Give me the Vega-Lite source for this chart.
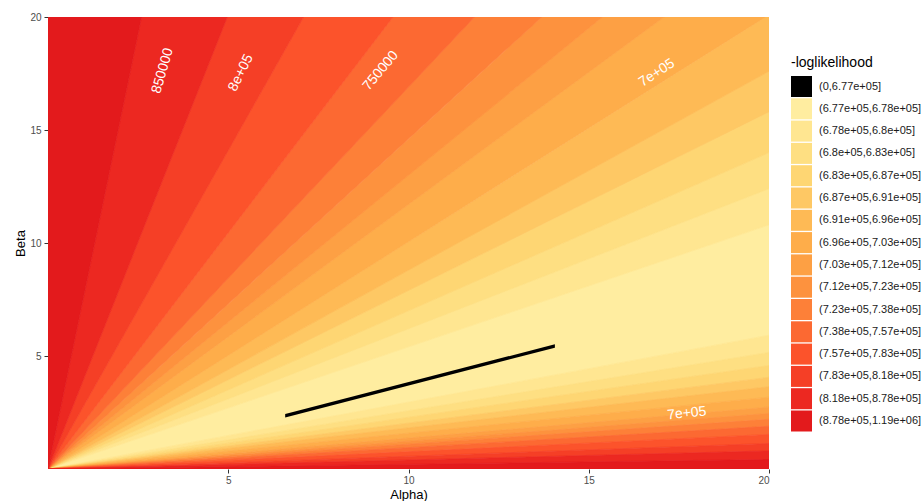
{
  "$schema": "https://vega.github.io/schema/vega-lite/v6.json",
  "width": 721,
  "height": 452,
  "autosize": {"type": "none"},
  "padding": {"left": 48, "top": 17, "right": 154, "bottom": 32},
  "background": "white",
  "config": {
    "font": "Liberation Sans",
    "view": {"stroke": null},
    "axis": {"grid": false, "domain": false, "tickColor": "#333333", "tickSize": 4, "labelColor": "#4D4D4D", "labelFontSize": 10, "titleFontSize": 13, "titleFontWeight": "normal", "titleColor": "#000000", "labelPadding": 2}
  },
  "datasets": {
    "bands": [
      {"id": "u2", "cls": "(6.77e+05,6.78e+05]", "alpha": 0, "lo": 0, "hi": 0},
      {"id": "u2", "cls": "(6.77e+05,6.78e+05]", "alpha": 20, "lo": 5.92, "hi": 10.8},
      {"id": "u3", "cls": "(6.78e+05,6.8e+05]", "alpha": 0, "lo": 0, "hi": 0},
      {"id": "u3", "cls": "(6.78e+05,6.8e+05]", "alpha": 20, "lo": 10.8, "hi": 12.4},
      {"id": "u4", "cls": "(6.8e+05,6.83e+05]", "alpha": 0, "lo": 0, "hi": 0},
      {"id": "u4", "cls": "(6.8e+05,6.83e+05]", "alpha": 20, "lo": 12.4, "hi": 14.0},
      {"id": "u5", "cls": "(6.83e+05,6.87e+05]", "alpha": 0, "lo": 0, "hi": 0},
      {"id": "u5", "cls": "(6.83e+05,6.87e+05]", "alpha": 20, "lo": 14.0, "hi": 15.8},
      {"id": "u6", "cls": "(6.87e+05,6.91e+05]", "alpha": 0, "lo": 0, "hi": 0},
      {"id": "u6", "cls": "(6.87e+05,6.91e+05]", "alpha": 20, "lo": 15.8, "hi": 17.6},
      {"id": "u7", "cls": "(6.91e+05,6.96e+05]", "alpha": 0, "lo": 0, "hi": 0},
      {"id": "u7", "cls": "(6.91e+05,6.96e+05]", "alpha": 19.9, "lo": 17.51, "hi": 20},
      {"id": "u7", "cls": "(6.91e+05,6.96e+05]", "alpha": 20, "lo": 17.6, "hi": 20},
      {"id": "u8", "cls": "(6.96e+05,7.03e+05]", "alpha": 0, "lo": 0, "hi": 0},
      {"id": "u8", "cls": "(6.96e+05,7.03e+05]", "alpha": 17.09, "lo": 17.18, "hi": 20},
      {"id": "u8", "cls": "(6.96e+05,7.03e+05]", "alpha": 19.9, "lo": 20, "hi": 20},
      {"id": "u9", "cls": "(7.03e+05,7.12e+05]", "alpha": 0, "lo": 0, "hi": 0},
      {"id": "u9", "cls": "(7.03e+05,7.12e+05]", "alpha": 15.38, "lo": 18.0, "hi": 20},
      {"id": "u9", "cls": "(7.03e+05,7.12e+05]", "alpha": 17.09, "lo": 20, "hi": 20},
      {"id": "u10", "cls": "(7.12e+05,7.23e+05]", "alpha": 0, "lo": 0, "hi": 0},
      {"id": "u10", "cls": "(7.12e+05,7.23e+05]", "alpha": 13.7, "lo": 17.81, "hi": 20},
      {"id": "u10", "cls": "(7.12e+05,7.23e+05]", "alpha": 15.38, "lo": 20, "hi": 20},
      {"id": "u11", "cls": "(7.23e+05,7.38e+05]", "alpha": 0, "lo": 0, "hi": 0},
      {"id": "u11", "cls": "(7.23e+05,7.38e+05]", "alpha": 11.83, "lo": 17.28, "hi": 20},
      {"id": "u11", "cls": "(7.23e+05,7.38e+05]", "alpha": 13.7, "lo": 20, "hi": 20},
      {"id": "u12", "cls": "(7.38e+05,7.57e+05]", "alpha": 0, "lo": 0, "hi": 0},
      {"id": "u12", "cls": "(7.38e+05,7.57e+05]", "alpha": 9.57, "lo": 16.17, "hi": 20},
      {"id": "u12", "cls": "(7.38e+05,7.57e+05]", "alpha": 11.83, "lo": 20, "hi": 20},
      {"id": "u13", "cls": "(7.57e+05,7.83e+05]", "alpha": 0, "lo": 0, "hi": 0},
      {"id": "u13", "cls": "(7.57e+05,7.83e+05]", "alpha": 7.09, "lo": 14.82, "hi": 20},
      {"id": "u13", "cls": "(7.57e+05,7.83e+05]", "alpha": 9.57, "lo": 20, "hi": 20},
      {"id": "u14", "cls": "(7.83e+05,8.18e+05]", "alpha": 0, "lo": 0, "hi": 0},
      {"id": "u14", "cls": "(7.83e+05,8.18e+05]", "alpha": 4.975, "lo": 14.03, "hi": 20},
      {"id": "u14", "cls": "(7.83e+05,8.18e+05]", "alpha": 7.09, "lo": 20, "hi": 20},
      {"id": "u15", "cls": "(8.18e+05,8.78e+05]", "alpha": 0, "lo": 0, "hi": 0},
      {"id": "u15", "cls": "(8.18e+05,8.78e+05]", "alpha": 2.597, "lo": 10.44, "hi": 20},
      {"id": "u15", "cls": "(8.18e+05,8.78e+05]", "alpha": 4.975, "lo": 20, "hi": 20},
      {"id": "u16", "cls": "(8.78e+05,1.19e+06]", "alpha": 0, "lo": 0, "hi": 20},
      {"id": "u16", "cls": "(8.78e+05,1.19e+06]", "alpha": 2.597, "lo": 20, "hi": 20},
      {"id": "l3", "cls": "(6.78e+05,6.8e+05]", "alpha": 0, "lo": 0, "hi": 0},
      {"id": "l3", "cls": "(6.78e+05,6.8e+05]", "alpha": 20, "lo": 5.16, "hi": 5.92},
      {"id": "l4", "cls": "(6.8e+05,6.83e+05]", "alpha": 0, "lo": 0, "hi": 0},
      {"id": "l4", "cls": "(6.8e+05,6.83e+05]", "alpha": 20, "lo": 4.58, "hi": 5.16},
      {"id": "l5", "cls": "(6.83e+05,6.87e+05]", "alpha": 0, "lo": 0, "hi": 0},
      {"id": "l5", "cls": "(6.83e+05,6.87e+05]", "alpha": 20, "lo": 4.06, "hi": 4.58},
      {"id": "l6", "cls": "(6.87e+05,6.91e+05]", "alpha": 0, "lo": 0, "hi": 0},
      {"id": "l6", "cls": "(6.87e+05,6.91e+05]", "alpha": 20, "lo": 3.64, "hi": 4.06},
      {"id": "l7", "cls": "(6.91e+05,6.96e+05]", "alpha": 0, "lo": 0, "hi": 0},
      {"id": "l7", "cls": "(6.91e+05,6.96e+05]", "alpha": 20, "lo": 3.18, "hi": 3.64},
      {"id": "l8", "cls": "(6.96e+05,7.03e+05]", "alpha": 0, "lo": 0, "hi": 0},
      {"id": "l8", "cls": "(6.96e+05,7.03e+05]", "alpha": 20, "lo": 2.74, "hi": 3.18},
      {"id": "l9", "cls": "(7.03e+05,7.12e+05]", "alpha": 0, "lo": 0, "hi": 0},
      {"id": "l9", "cls": "(7.03e+05,7.12e+05]", "alpha": 20, "lo": 2.46, "hi": 2.74},
      {"id": "l10", "cls": "(7.12e+05,7.23e+05]", "alpha": 0, "lo": 0, "hi": 0},
      {"id": "l10", "cls": "(7.12e+05,7.23e+05]", "alpha": 20, "lo": 2.2, "hi": 2.46},
      {"id": "l11", "cls": "(7.23e+05,7.38e+05]", "alpha": 0, "lo": 0, "hi": 0},
      {"id": "l11", "cls": "(7.23e+05,7.38e+05]", "alpha": 20, "lo": 1.89, "hi": 2.2},
      {"id": "l12", "cls": "(7.38e+05,7.57e+05]", "alpha": 0, "lo": 0, "hi": 0},
      {"id": "l12", "cls": "(7.38e+05,7.57e+05]", "alpha": 20, "lo": 1.53, "hi": 1.89},
      {"id": "l13", "cls": "(7.57e+05,7.83e+05]", "alpha": 0, "lo": 0, "hi": 0},
      {"id": "l13", "cls": "(7.57e+05,7.83e+05]", "alpha": 20, "lo": 1.13, "hi": 1.53},
      {"id": "l14", "cls": "(7.83e+05,8.18e+05]", "alpha": 0, "lo": 0, "hi": 0},
      {"id": "l14", "cls": "(7.83e+05,8.18e+05]", "alpha": 20, "lo": 0.8, "hi": 1.13},
      {"id": "l15", "cls": "(8.18e+05,8.78e+05]", "alpha": 0, "lo": 0, "hi": 0},
      {"id": "l15", "cls": "(8.18e+05,8.78e+05]", "alpha": 20, "lo": 0.42, "hi": 0.8},
      {"id": "l16", "cls": "(8.78e+05,1.19e+06]", "alpha": 0, "lo": 0, "hi": 0},
      {"id": "l16", "cls": "(8.78e+05,1.19e+06]", "alpha": 20, "lo": 0, "hi": 0.42}
    ],
    "ridge": [
      {"id": "b1", "cls": "(0,6.77e+05]", "alpha": 6.58, "lo": 2.28, "hi": 2.43},
      {"id": "b1", "cls": "(0,6.77e+05]", "alpha": 14.06, "lo": 5.37, "hi": 5.52}
    ],
    "labels": [
      {"id": "t1", "alpha": 3.18, "beta": 17.62, "text": "850000"},
      {"id": "t2", "alpha": 5.35, "beta": 17.53, "text": "8e+05"},
      {"id": "t3", "alpha": 9.23, "beta": 17.62, "text": "750000"},
      {"id": "t4", "alpha": 16.89, "beta": 17.53, "text": "7e+05"},
      {"id": "t5", "alpha": 17.72, "beta": 2.46, "text": "7e+05"}
    ]
  },
  "layer": [
    {
      "data": {"name": "bands"},
      "mark": {"type": "area", "interpolate": "linear", "strokeWidth": 0.7, "clip": true},
      "encoding": {
        "x": {"field": "alpha", "type": "quantitative", "scale": {"domain": [0, 20], "nice": false, "zero": false}, "axis": {"values": [5, 10, 15, 20], "title": "Alpha)", "titlePadding": 3}},
        "y": {"field": "lo", "type": "quantitative", "scale": {"domain": [0, 20], "nice": false, "zero": false}, "axis": {"values": [5, 10, 15, 20], "title": "Beta", "titlePadding": 2, "labelPadding": 3}},
        "y2": {"field": "hi"},
        "detail": {"field": "id"},
        "color": {
          "field": "cls", "type": "nominal",
          "scale": {
            "domain": ["(0,6.77e+05]", "(6.77e+05,6.78e+05]", "(6.78e+05,6.8e+05]", "(6.8e+05,6.83e+05]", "(6.83e+05,6.87e+05]", "(6.87e+05,6.91e+05]", "(6.91e+05,6.96e+05]", "(6.96e+05,7.03e+05]", "(7.03e+05,7.12e+05]", "(7.12e+05,7.23e+05]", "(7.23e+05,7.38e+05]", "(7.38e+05,7.57e+05]", "(7.57e+05,7.83e+05]", "(7.83e+05,8.18e+05]", "(8.18e+05,8.78e+05]", "(8.78e+05,1.19e+06]"],
            "range": ["#000000", "#FFEDA0", "#FFE691", "#FEDF82", "#FED673", "#FEC864", "#FEBA55", "#FEAD4A", "#FDA044", "#FD923E", "#FD8038", "#FC6932", "#FC532B", "#F53F26", "#EC2821", "#E31A1C"]
          },
          "legend": {
            "orient": "none", "legendX": 743, "legendY": 39, "title": "-loglikelihood",
            "titleFontSize": 14, "titleFontWeight": "normal", "titleColor": "#000000", "titlePadding": 6,
            "labelFontSize": 11, "labelColor": "#1A1A1A", "labelOffset": 7,
            "symbolType": "square", "symbolSize": 441, "symbolStrokeWidth": 0, "symbolOpacity": 1,
            "rowPadding": 1.3, "padding": 0
          }
        },
        "stroke": {
          "field": "cls", "type": "nominal", "legend": null,
          "scale": {
            "domain": ["(0,6.77e+05]", "(6.77e+05,6.78e+05]", "(6.78e+05,6.8e+05]", "(6.8e+05,6.83e+05]", "(6.83e+05,6.87e+05]", "(6.87e+05,6.91e+05]", "(6.91e+05,6.96e+05]", "(6.96e+05,7.03e+05]", "(7.03e+05,7.12e+05]", "(7.12e+05,7.23e+05]", "(7.23e+05,7.38e+05]", "(7.38e+05,7.57e+05]", "(7.57e+05,7.83e+05]", "(7.83e+05,8.18e+05]", "(8.18e+05,8.78e+05]", "(8.78e+05,1.19e+06]"],
            "range": ["#000000", "#FFEDA0", "#FFE691", "#FEDF82", "#FED673", "#FEC864", "#FEBA55", "#FEAD4A", "#FDA044", "#FD923E", "#FD8038", "#FC6932", "#FC532B", "#F53F26", "#EC2821", "#E31A1C"]
          }
        }
      }
    },
    {
      "data": {"name": "ridge"},
      "mark": {"type": "area", "interpolate": "linear", "clip": true},
      "encoding": {
        "x": {"field": "alpha", "type": "quantitative"},
        "y": {"field": "lo", "type": "quantitative"},
        "y2": {"field": "hi"},
        "color": {"field": "cls", "type": "nominal"}
      }
    },
    {
      "data": {"name": "labels"},
      "transform": [{"filter": "datum.id == 't1'"}],
      "mark": {"type": "text", "angle": -74, "fontSize": 14, "color": "white", "align": "center", "baseline": "middle"},
      "encoding": {"x": {"field": "alpha", "type": "quantitative"}, "y": {"field": "beta", "type": "quantitative"}, "text": {"field": "text"}}
    },
    {
      "data": {"name": "labels"},
      "transform": [{"filter": "datum.id == 't2'"}],
      "mark": {"type": "text", "angle": -64, "fontSize": 14, "color": "white", "align": "center", "baseline": "middle"},
      "encoding": {"x": {"field": "alpha", "type": "quantitative"}, "y": {"field": "beta", "type": "quantitative"}, "text": {"field": "text"}}
    },
    {
      "data": {"name": "labels"},
      "transform": [{"filter": "datum.id == 't3'"}],
      "mark": {"type": "text", "angle": -50, "fontSize": 14, "color": "white", "align": "center", "baseline": "middle"},
      "encoding": {"x": {"field": "alpha", "type": "quantitative"}, "y": {"field": "beta", "type": "quantitative"}, "text": {"field": "text"}}
    },
    {
      "data": {"name": "labels"},
      "transform": [{"filter": "datum.id == 't4'"}],
      "mark": {"type": "text", "angle": -33, "fontSize": 14, "color": "white", "align": "center", "baseline": "middle"},
      "encoding": {"x": {"field": "alpha", "type": "quantitative"}, "y": {"field": "beta", "type": "quantitative"}, "text": {"field": "text"}}
    },
    {
      "data": {"name": "labels"},
      "transform": [{"filter": "datum.id == 't5'"}],
      "mark": {"type": "text", "angle": -6, "fontSize": 14, "color": "white", "align": "center", "baseline": "middle"},
      "encoding": {"x": {"field": "alpha", "type": "quantitative"}, "y": {"field": "beta", "type": "quantitative"}, "text": {"field": "text"}}
    }
  ]
}
